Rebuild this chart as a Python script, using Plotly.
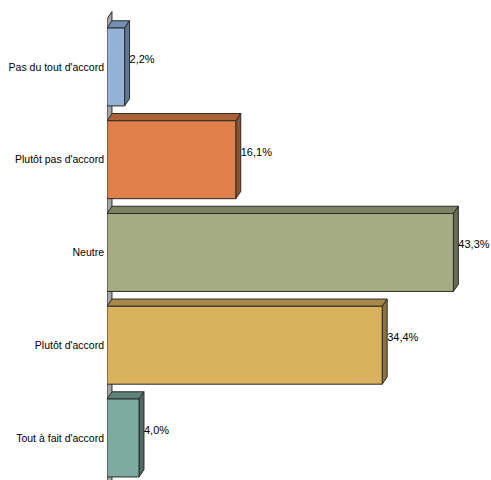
import plotly.graph_objects as go

categories = ["Pas du tout d'accord", "Plutôt pas d'accord", "Neutre", "Plutôt d'accord", "Tout à fait d'accord"]
values = [2.2, 16.1, 43.3, 34.4, 4.0]
labels = ["2,2%", "16,1%", "43,3%", "34,4%", "4,0%"]
front_colors = ["#95b3d7", "#e0814a", "#a5ac84", "#d9b25e", "#7eaba0"]
top_colors = ["#7390b5", "#ad6236", "#7d8262", "#a88947", "#5c8279"]
side_colors = ["#5f7898", "#8f5230", "#686c51", "#8c723b", "#4c6b63"]

pos = list(range(len(categories)))
half = 0.42
dx = 0.62   # depth in x units
dy = 0.078  # depth in category units
edge = "#2a2a2a"
font_family = "Liberation Sans, Arial, sans-serif"

y_top, y_bot = -0.722, 4.453

fig = go.Figure()

# back/side wall
fig.add_trace(go.Scatter(
    x=[0, dx, dx, 0, 0],
    y=[y_bot + 0.2, y_bot + 0.2 - dy, -0.52 - dy, -0.52, y_bot + 0.2],
    mode="lines", fill="toself", fillcolor="#a6a6a6",
    line=dict(color=edge, width=1), hoverinfo="skip", showlegend=False))

for i, v in enumerate(values):
    y = pos[i]
    t, b = y - half, y + half
    # top face
    fig.add_trace(go.Scatter(
        x=[0, dx, v + dx, v, 0], y=[t, t - dy, t - dy, t, t],
        mode="lines", fill="toself", fillcolor=top_colors[i],
        line=dict(color=edge, width=1), hoverinfo="skip", showlegend=False))
    # side face
    fig.add_trace(go.Scatter(
        x=[v, v + dx, v + dx, v, v], y=[t, t - dy, b - dy, b, t],
        mode="lines", fill="toself", fillcolor=side_colors[i],
        line=dict(color=edge, width=1), hoverinfo="skip", showlegend=False))
    # front face
    fig.add_trace(go.Scatter(
        x=[0, v, v, 0, 0], y=[t, t, b, b, t],
        mode="lines", fill="toself", fillcolor=front_colors[i],
        line=dict(color=edge, width=1), hoverinfo="skip", showlegend=False))

fig.add_trace(go.Scatter(
    x=[v + dx for v in values], y=[p - 0.075 for p in pos],
    mode="text", text=labels, textposition="middle right", cliponaxis=False,
    textfont=dict(family=font_family, size=11, color="#000"),
    hoverinfo="skip", showlegend=False))

fig.update_layout(
    width=491, height=480,
    margin=dict(l=107, r=0, t=0, b=0),
    paper_bgcolor="white", plot_bgcolor="white",
    showlegend=False,
    xaxis=dict(range=[0, 48], visible=False, fixedrange=True, automargin=False),
    yaxis=dict(range=[y_bot, y_top], tickvals=pos, ticktext=categories,
               showgrid=False, zeroline=False, showline=False, ticks="",
               automargin=False, ticklabelstandoff=2, fixedrange=True,
               tickfont=dict(family=font_family, size=10.5, color="#000")),
)

fig.write_html("out.html", config={"displayModeBar": False},
               post_script="document.body.style.margin='0';document.body.style.overflow='hidden';")
